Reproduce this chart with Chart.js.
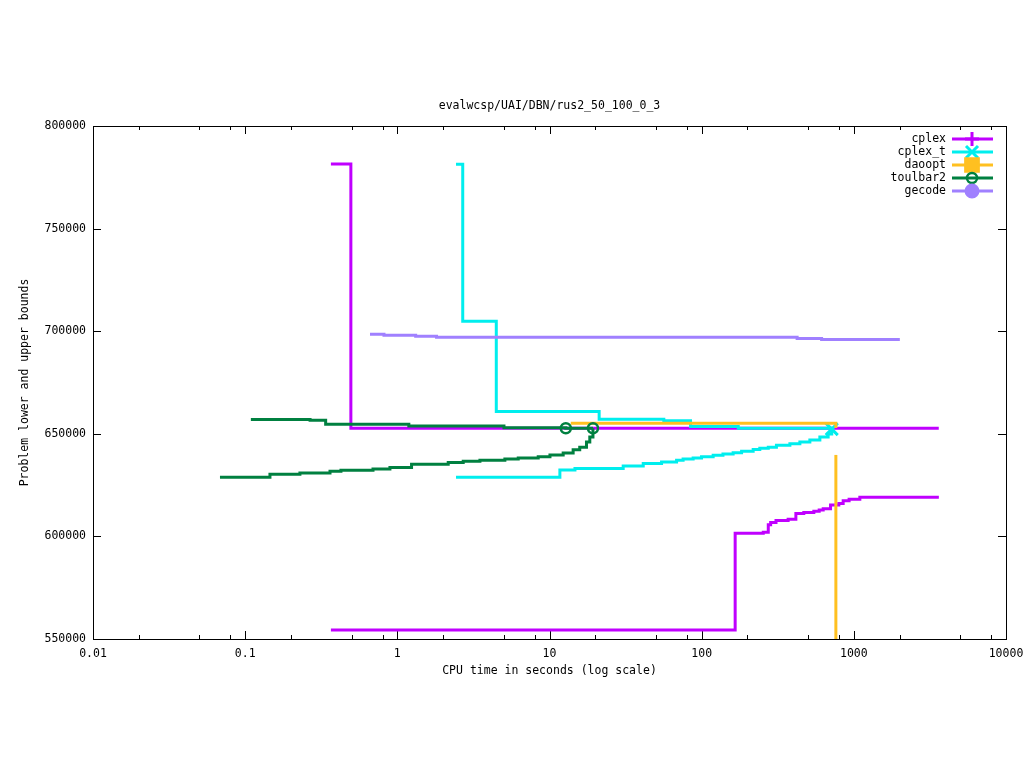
<!DOCTYPE html>
<html>
<head>
<meta charset="utf-8">
<script src="https://cdn.jsdelivr.net/npm/chart.js@4.4.0/dist/chart.umd.min.js"></script>
<style>
  html, body { margin: 0; padding: 0; background: #fff; }
</style>
</head>
<body>
<canvas id="grafik" width="1024" height="768"></canvas>
<script>
// data (waktu dalam detik, bound)
const cplexUbTime  = [0.366, 0.495, 3615];
const cplexUbBound = [781500, 652700, 652700];
const cplexLbTime  = [0.366, 166, 254, 274, 284, 308, 370, 416, 469, 546, 592, 629, 703, 797, 851, 931, 1095, 3620];
const cplexLbBound = [554400, 601500, 602000, 605700, 606800, 607800, 608300, 611200, 611700, 612200, 612900, 613500, 615300, 616000, 617400, 618100, 619100, 619100];

const cplexTUbTime  = [2.43, 2.69, 4.47, 21.2, 56.4, 84.5, 174, 716];
const cplexTUbBound = [781300, 704800, 660900, 657100, 656400, 653600, 652700, 652700];
const cplexTLbTime  = [2.43, 11.7, 14.7, 30.5, 41.3, 54.5, 68.4, 75.5, 87.9, 99.8, 119, 138, 161, 183, 218, 241, 274, 310, 380, 442, 514, 598, 678, 716];
const cplexTLbBound = [628800, 632400, 633100, 634300, 635500, 636300, 637100, 637700, 638200, 638800, 639500, 640100, 640800, 641500, 642300, 642900, 643500, 644400, 645200, 646000, 647000, 648400, 649900, 652300];

const daooptUbTime  = [13.8, 762];
const daooptUbBound = [655100, 652800];
const daooptLbTime  = [762, 762];
const daooptLbBound = [520000, 639700];

const toulbarUbTime  = [0.109, 0.267, 0.338, 1.19, 5.02, 12.8, 19.3];
const toulbarUbBound = [657000, 656600, 654600, 653800, 653000, 652700, 652700];
const toulbarLbTime  = [0.0683, 0.1455, 0.229, 0.361, 0.426, 0.692, 0.894, 1.24, 2.16, 2.71, 3.49, 5.09, 6.23, 8.43, 10.07, 12.3, 14.3, 15.8, 17.5, 18.4, 19.3];
const toulbarLbBound = [628800, 630300, 630900, 631700, 632200, 632800, 633600, 635100, 636000, 636600, 637100, 637700, 638200, 638800, 639700, 640600, 642200, 643500, 646000, 648400, 652700];

const gecodeUbTime  = [0.661, 0.817, 1.32, 1.81, 424, 614, 2006];
const gecodeUbBound = [698500, 698000, 697500, 697000, 696500, 696000, 696000];

// titik yang diberi marker
const cplexTMarks  = [716];
const toulbarMarks = [12.8, 19.3];

const seriesNames = ["cplex", "cplex_t", "daoopt", "toulbar2", "gecode"];
const xMajorTicks = [0.01, 0.1, 1, 10, 100, 1000, 10000];
const yTicks = [550000, 600000, 650000, 700000, 750000, 800000];

const judul = "evalwcsp/UAI/DBN/rus2_50_100_0_3";
const xTitle = "CPU time in seconds (log scale)";
const yTitle = "Problem lower and upper bounds";

const warna = ["#c000ff", "#00eeee", "#ffc020", "#008040", "#a080ff"];
const marker = ["cross", "crossRot", "rect", "circle", "circle"];
const markerSize = [7, 8.5, 9, 5, 6];
const FONT = '11.5px "DejaVu Sans Mono"';

// minor tick log: 2, 5, 8 per dekade
const xTickValues = [];
for (let i = 0; i < xMajorTicks.length; i++) {
  xTickValues.push(xMajorTicks[i]);
  if (i < xMajorTicks.length - 1) {
    [2, 5, 8].forEach(m => xTickValues.push(+(xMajorTicks[i] * m).toPrecision(6)));
  }
}

function toPts(t, b) {
  return t.map((x, i) => ({ x: x, y: b[i] }));
}

const curves = [
  { s: 0, t: cplexUbTime, b: cplexUbBound, marks: [] },
  { s: 0, t: cplexLbTime, b: cplexLbBound, marks: [] },
  { s: 1, t: cplexTUbTime, b: cplexTUbBound, marks: [] },
  { s: 1, t: cplexTLbTime, b: cplexTLbBound, marks: cplexTMarks },
  { s: 2, t: daooptUbTime, b: daooptUbBound, marks: [] },
  { s: 2, t: daooptLbTime, b: daooptLbBound, marks: [] },
  { s: 3, t: toulbarUbTime, b: toulbarUbBound, marks: toulbarMarks },
  { s: 3, t: toulbarLbTime, b: toulbarLbBound, marks: [] },
  { s: 4, t: gecodeUbTime, b: gecodeUbBound, marks: [] }
];

const datasets = curves.map(c => ({
  label: seriesNames[c.s],
  data: toPts(c.t, c.b),
  showLine: true,
  stepped: true,
  fill: false,
  borderColor: warna[c.s],
  borderWidth: 3,
  pointStyle: marker[c.s],
  pointBorderColor: warna[c.s],
  pointBackgroundColor: c.s === 3 ? "rgba(0,0,0,0)" : warna[c.s],
  pointBorderWidth: c.s === 3 ? 2.5 : 3,
  pointRadius: ctx => (ctx.raw && c.marks.includes(ctx.raw.x)) ? markerSize[c.s] : 0,
  pointHoverRadius: 0,
  order: 10 - c.s
}));

const gnuFrame = {
  id: "gnuFrame",
  beforeDatasetsDraw(chart) {
    const ctx = chart.ctx;
    const a = chart.chartArea;
    const xs = chart.scales.x, ys = chart.scales.y;
    ctx.save();
    ctx.strokeStyle = "#000";
    ctx.lineWidth = 1;
    ctx.beginPath();
    for (const v of xTickValues) {
      const px = Math.round(xs.getPixelForValue(v)) + 0.5;
      const len = xMajorTicks.includes(v) ? 8 : 4;
      ctx.moveTo(px, a.bottom); ctx.lineTo(px, a.bottom - len);
      ctx.moveTo(px, a.top); ctx.lineTo(px, a.top + len);
    }
    for (const v of yTicks) {
      const py = Math.round(ys.getPixelForValue(v)) + 0.5;
      ctx.moveTo(a.left, py); ctx.lineTo(a.left + 8, py);
      ctx.moveTo(a.right, py); ctx.lineTo(a.right - 8, py);
    }
    ctx.stroke();
    ctx.strokeRect(Math.round(a.left) + 0.5, Math.round(a.top) + 0.5,
      Math.round(a.right - a.left), Math.round(a.bottom - a.top));
    ctx.restore();
  },
  afterDraw(chart) {
    const ctx = chart.ctx;
    const a = chart.chartArea;
    const cx = (a.left + a.right) / 2;
    ctx.save();
    ctx.font = FONT;
    ctx.fillStyle = "#000";
    ctx.textAlign = "center";
    ctx.textBaseline = "middle";
    ctx.fillText(judul, cx, a.top - 20);
    ctx.fillText(xTitle, cx, a.bottom + 32);
    ctx.save();
    ctx.translate(25, (a.top + a.bottom) / 2);
    ctx.rotate(-Math.PI / 2);
    ctx.fillText(yTitle, 0, 0);
    ctx.restore();

    // legend ala gnuplot
    ctx.textAlign = "right";
    seriesNames.forEach((n, i) => {
      const y = a.top + 13 + i * 13;
      ctx.fillStyle = "#000";
      ctx.fillText(n, a.right - 60, y);
      ctx.strokeStyle = warna[i];
      ctx.lineWidth = 3;
      ctx.beginPath();
      ctx.moveTo(a.right - 54, y);
      ctx.lineTo(a.right - 13, y);
      ctx.stroke();
      ctx.fillStyle = (i === 3) ? "rgba(0,0,0,0)" : warna[i];
      ctx.lineWidth = i === 3 ? 2.5 : 3;
      Chart.helpers.drawPoint(ctx, {
        pointStyle: marker[i],
        radius: markerSize[i],
        rotation: 0,
        borderWidth: ctx.lineWidth
      }, a.right - 34, y);
    });
    ctx.restore();
  }
};

new Chart(document.getElementById("grafik").getContext("2d"), {
  type: "scatter",
  data: { datasets: datasets },
  options: {
    responsive: false,
    animation: false,
    devicePixelRatio: 1,
    layout: { padding: { left: 0, right: 18, top: 126, bottom: 99 } },
    plugins: {
      legend: { display: false },
      title: { display: false },
      tooltip: { enabled: false }
    },
    scales: {
      x: {
        type: "logarithmic",
        min: 0.01,
        max: 10000,
        afterBuildTicks: s => { s.ticks = xTickValues.map(v => ({ value: v })); },
        afterFit: s => { s.height = 30; s.paddingLeft = 0; s.paddingRight = 0; },
        grid: { display: false, drawTicks: false },
        border: { display: false },
        ticks: {
          autoSkip: false,
          maxRotation: 0,
          padding: 8,
          color: "#000",
          font: { family: "DejaVu Sans Mono", size: 11.5 },
          callback: v => xMajorTicks.includes(v) ? String(v) : ""
        }
      },
      y: {
        type: "linear",
        min: 550000,
        max: 800000,
        afterBuildTicks: s => { s.ticks = yTicks.map(v => ({ value: v })); },
        afterFit: s => { s.width = 93; s.paddingTop = 0; s.paddingBottom = 0; },
        grid: { display: false, drawTicks: false },
        border: { display: false },
        ticks: {
          padding: 7,
          color: "#000",
          font: { family: "DejaVu Sans Mono", size: 11.5 },
          callback: v => String(v)
        }
      }
    }
  },
  plugins: [gnuFrame]
});
</script>
</body>
</html>
